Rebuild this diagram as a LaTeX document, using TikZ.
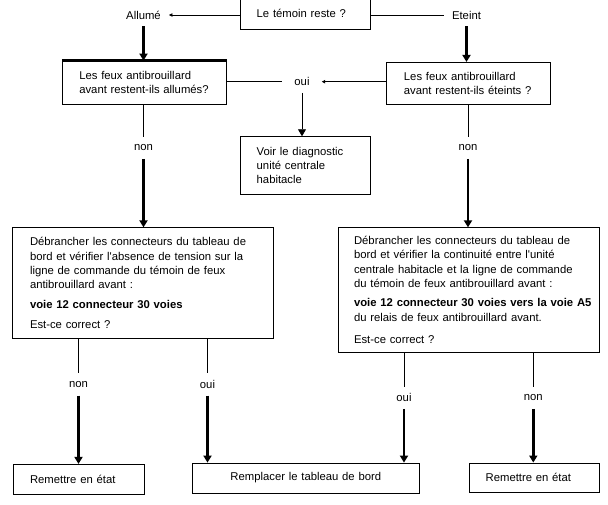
\documentclass[tikz,border=0pt]{standalone}
\usepackage{fontspec}
\setmainfont{Liberation Sans}
\usetikzlibrary{arrows.meta}

\tikzset{
	box/.style={draw, line width=0.8pt, rectangle, align=left, inner ysep=0pt, font=\fontsize{11.3}{14.3}\selectfont},
	lbl/.style={inner xsep=8pt, inner ysep=0pt, minimum height=22pt, font=\fontsize{11.3}{14.3}\selectfont},
	thin/.style={line width=0.8pt},
	thin arrow/.style={line width=0.8pt, -{Triangle[width=8pt,length=7pt]}},
	thick arrow/.style={line width=2.4pt, -{Triangle[width=8pt,length=7pt]}},
	small arrow/.style={line width=0.8pt, -{Triangle[width=3.5pt,length=3.5pt]}}
}

\begin{document}
\begin{tikzpicture}[x=1pt,y=-1pt]
	
	\useasboundingbox (0,0) rectangle (608,504);
	
	% question du haut
	\node[box, minimum height=31.3pt, text width=98pt, inner xsep=16pt] (temoin) at (305.7,13.7) {Le témoin reste ?};
	\node[lbl] (allume) at (143.5,15) {Allumé};
	\node[lbl] (eteint) at (466.5,15) {Eteint};
	
	\node[box, minimum height=43pt, text width=130.4pt, inner xsep=17pt] (qallume) at (144.5,82.5) {Les feux antibrouillard\\avant restent-ils allumés?};
	\node[box, minimum height=41.7pt, text width=128.7pt, inner xsep=17.3pt] (qeteint) at (468.3,83.2) {Les feux antibrouillard\\avant restent-ils éteints ?};
	\draw[line width=3.3pt] (qallume.north west) -- (qallume.north east);
	
	\node[lbl, inner xsep=12pt] (oui) at (302,81.7) {oui};
	\node[box, minimum height=57.3pt, text width=98pt, inner xsep=16pt] (voir) at (305.7,165.3) {Voir le diagnostic\\unité centrale\\habitacle};
	
	\node[lbl] (nonA) at (143.5,147.7) {non};
	\node[lbl] (nonB) at (468,147.7) {non};
	
	% controles
	\node[box, minimum height=110.3pt, text width=226pt, inner xsep=17.3pt] (debA) at (143,282.9) {Débrancher les connecteurs du tableau de\\bord et vérifier l\textquotesingle absence de tension sur la\\ligne de commande du témoin de feux\\antibrouillard avant :\\[5pt]\textbf{voie 12 connecteur 30 voies}\\[5.7pt]Est-ce correct ?};
	\node[box, minimum height=124.3pt, text width=229.3pt, inner xsep=15.7pt] (debB) at (468.7,289.9) {Débrancher les connecteurs du tableau de\\bord et vérifier la continuité entre l\textquotesingle unité\\centrale habitacle et la ligne de commande\\du témoin de feux antibrouillard avant :\\[5pt]\mbox{\textbf{voie 12 connecteur 30 voies vers la voie A5}}\\du relais de feux antibrouillard avant.\\[8pt]Est-ce correct ?};
	
	\node[lbl] (nonC) at (78.5,384.3) {non};
	\node[lbl] (ouiC) at (207.5,384.3) {oui};
	\node[lbl] (ouiD) at (404,397.7) {oui};
	\node[lbl] (nonD) at (533.3,397.7) {non};
	
	% actions
	\node[box, minimum height=30pt, text width=97.3pt, inner xsep=16.7pt] (remA) at (78.7,479.3) {Remettre en état};
	\node[box, minimum height=30pt, text width=210pt, inner xsep=8.15pt, align=center] (rempl) at (305.8,478) {Remplacer le tableau de bord};
	\node[box, minimum height=29.7pt, text width=97.3pt, inner xsep=16pt] (remB) at (534.3,477.8) {Remettre en état};
	
	\draw[small arrow] (temoin.west |- allume) -- (allume);
	\draw[thin] (temoin.east |- eteint) -- (eteint);
	\draw[thick arrow] (allume) -- (allume |- qallume.north);
	\draw[thick arrow] (eteint) -- (eteint |- qeteint.north);
	
	\draw[thin] (qallume.east |- oui) -- (oui);
	\draw[small arrow] (qeteint.west |- oui) -- (oui);
	\draw[thin arrow] (oui) -- (oui |- voir.north);
	
	\draw[thin] (qallume.south -| nonA) -- (nonA);
	\draw[thick arrow] (nonA) -- (nonA |- debA.north);
	\draw[thin] (qeteint.south -| nonB) -- (nonB);
	\draw[thick arrow] (nonB) -- (nonB |- debB.north);
	
	\draw[thin] (debA.south -| nonC) -- (nonC);
	\draw[thick arrow] (nonC) -- (nonC |- remA.north);
	\draw[thin] (debA.south -| ouiC) -- (ouiC);
	\draw[thick arrow] (ouiC) -- (ouiC |- rempl.north);
	\draw[thin] (debB.south -| ouiD) -- (ouiD);
	\draw[thick arrow] (ouiD) -- (ouiD |- rempl.north);
	\draw[thin] (debB.south -| nonD) -- (nonD);
	\draw[thick arrow] (nonD) -- (nonD |- remB.north);
	
\end{tikzpicture}
\end{document}
